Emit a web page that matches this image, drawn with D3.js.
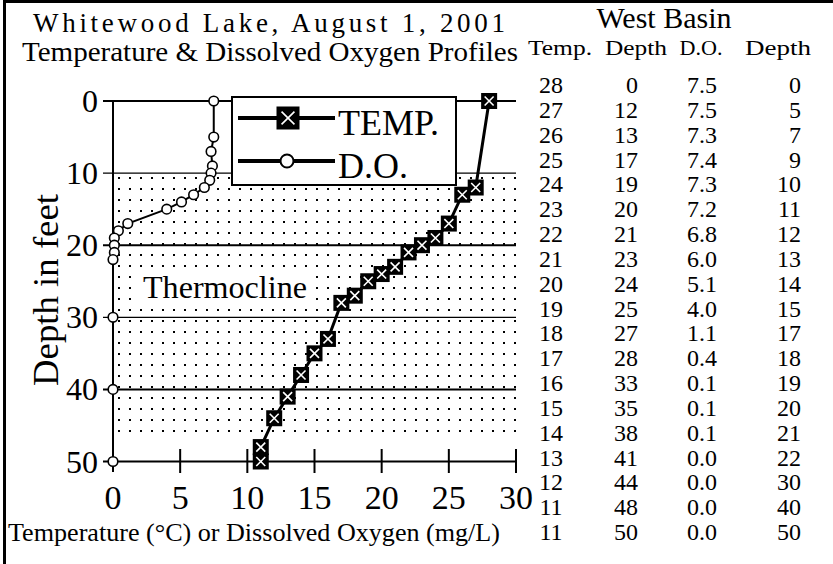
<!DOCTYPE html>
<html>
<head>
<meta charset="utf-8">
<script src="https://cdn.jsdelivr.net/npm/d3@7"></script>
<style>
body { margin: 0; background: #fff; }
svg { display: block; }
</style>
</head>
<body>
<script>
var width = 833,
  height = 564;

// West Basin profile
var tempC = [28, 27, 26, 25, 24, 23, 22, 21, 20, 19, 18, 17, 16, 15, 14, 13, 12, 11, 11];
var tempDepth = [0, 12, 13, 17, 19, 20, 21, 23, 24, 25, 27, 28, 33, 35, 38, 41, 44, 48, 50];
var doMgL = [7.5, 7.5, 7.3, 7.4, 7.3, 7.2, 6.8, 6.0, 5.1, 4.0, 1.1, 0.4, 0.1, 0.1, 0.1, 0.0, 0.0, 0.0, 0.0];
var doDepth = [0, 5, 7, 9, 10, 11, 12, 13, 14, 15, 17, 18, 19, 20, 21, 22, 30, 40, 50];

var xTicks = [0, 5, 10, 15, 20, 25, 30];
var depthTicks = [0, 10, 20, 30, 40, 50];
var thermocline = [10, 46];
var tableHeads = ["Temp.", "Depth", "D.O.", "Depth"];

var temps = tempC.map(function(t, i) { return {v: t, depth: tempDepth[i]}; });
var oxygen = doMgL.map(function(o, i) { return {v: o, depth: doDepth[i]}; });

var svg = d3.select("body").append("svg")
  .attr("width", width)
  .attr("height", height)
  .attr("font-family", "'Liberation Serif', 'DejaVu Serif', 'Times New Roman', Times, serif")
  .attr("fill", "#000");

var x = d3.scaleLinear().domain([0, 30]).range([113, 516]);
var y = d3.scaleLinear().domain([0, 50]).range([101, 461.5]);

// stipple for the thermocline band
var pat = svg.append("defs").append("pattern")
  .attr("id", "dots")
  .attr("patternUnits", "userSpaceOnUse")
  .attr("x", 118).attr("y", 177)
  .attr("width", 11).attr("height", 11);
pat.append("rect").attr("x", 0).attr("y", 0).attr("width", 2).attr("height", 2);

// frame
svg.append("path")
  .attr("d", "M4.5," + height + "V1.5H" + width)
  .attr("fill", "none")
  .attr("stroke", "#000")
  .attr("stroke-width", 3);

// titles
svg.append("text")
  .attr("x", 33).attr("y", 32)
  .attr("font-size", 27)
  .attr("textLength", 472).attr("lengthAdjust", "spacing")
  .text("Whitewood Lake, August 1, 2001");
svg.append("text")
  .attr("x", 22).attr("y", 61)
  .attr("font-size", 27)
  .attr("textLength", 496).attr("lengthAdjust", "spacingAndGlyphs")
  .text("Temperature & Dissolved Oxygen Profiles");

// thermocline band
svg.append("rect")
  .attr("x", x(0) + 1)
  .attr("y", y(thermocline[0]))
  .attr("width", x(30) - x(0) - 1)
  .attr("height", y(thermocline[1]) - y(thermocline[0]))
  .attr("fill", "url(#dots)");

svg.append("rect")
  .attr("x", 135).attr("y", 268)
  .attr("width", 178).attr("height", 39)
  .attr("fill", "#fff");
svg.append("text")
  .attr("x", 143).attr("y", 298)
  .attr("font-size", 32)
  .attr("textLength", 164).attr("lengthAdjust", "spacingAndGlyphs")
  .text("Thermocline");

// horizontal depth lines and y ticks
svg.append("g")
  .selectAll("line")
  .data(depthTicks)
  .enter().append("line")
    .attr("x1", 103)
    .attr("x2", x(30))
    .attr("y1", function(d) { return y(d); })
    .attr("y2", function(d) { return y(d); })
    .attr("stroke", "#000")
    .attr("stroke-width", function(d) { return (d == 10 || d == 30) ? 1.3 : 2; });

svg.append("g")
  .selectAll("text")
  .data(depthTicks)
  .enter().append("text")
    .attr("x", 98)
    .attr("y", function(d) { return y(d) + 11; })
    .attr("text-anchor", "end")
    .attr("font-size", 32)
    .text(function(d) { return d; });

// y axis line
svg.append("line")
  .attr("x1", x(0)).attr("x2", x(0))
  .attr("y1", y(0)).attr("y2", 472)
  .attr("stroke", "#000")
  .attr("stroke-width", 2);

// x ticks
svg.append("g")
  .selectAll("line")
  .data(xTicks.slice(1))
  .enter().append("line")
    .attr("x1", function(d) { return x(d); })
    .attr("x2", function(d) { return x(d); })
    .attr("y1", 449).attr("y2", 473)
    .attr("stroke", "#000")
    .attr("stroke-width", 2);

svg.append("g")
  .selectAll("text")
  .data(xTicks)
  .enter().append("text")
    .attr("x", function(d) { return x(d); })
    .attr("y", 509)
    .attr("text-anchor", "middle")
    .attr("font-size", 34)
    .text(function(d) { return d; });

// axis titles
svg.append("text")
  .attr("transform", "translate(58,290) rotate(-90)")
  .attr("text-anchor", "middle")
  .attr("font-size", 36)
  .attr("textLength", 192).attr("lengthAdjust", "spacingAndGlyphs")
  .text("Depth in feet");

svg.append("text")
  .attr("x", 8).attr("y", 541)
  .attr("font-size", 26)
  .attr("textLength", 492).attr("lengthAdjust", "spacingAndGlyphs")
  .text("Temperature (\u00B0C) or Dissolved Oxygen (mg/L)");

// dissolved oxygen profile
var line = d3.line()
  .x(function(d) { return x(d.v); })
  .y(function(d) { return y(d.depth); });

svg.append("path")
  .datum(oxygen)
  .attr("d", line)
  .attr("fill", "none")
  .attr("stroke", "#000")
  .attr("stroke-width", 2);

svg.append("g")
  .selectAll("circle")
  .data(oxygen)
  .enter().append("circle")
    .attr("cx", function(d) { return x(d.v); })
    .attr("cy", function(d) { return y(d.depth); })
    .attr("r", 4.8)
    .attr("fill", "#fff")
    .attr("stroke", "#000")
    .attr("stroke-width", 1.6);

// temperature profile
svg.append("path")
  .datum(temps)
  .attr("d", line)
  .attr("fill", "none")
  .attr("stroke", "#000")
  .attr("stroke-width", 3);

function boxX(sel, s) {
  sel.append("rect")
    .attr("x", -s / 2).attr("y", -s / 2)
    .attr("width", s).attr("height", s)
    .attr("fill", "#000");
  var k = s * 0.28;
  sel.append("path")
    .attr("d", "M" + (-k) + "," + (-k) + "L" + k + "," + k + "M" + k + "," + (-k) + "L" + (-k) + "," + k)
    .attr("stroke", "#fff")
    .attr("stroke-width", 1.6);
}

svg.append("g")
  .selectAll("g")
  .data(temps)
  .enter().append("g")
    .attr("transform", function(d) { return "translate(" + x(d.v) + "," + y(d.depth) + ")"; })
    .each(function() { boxX(d3.select(this), 16); });

// legend
var legend = svg.append("g");
legend.append("rect")
  .attr("x", 232).attr("y", 97)
  .attr("width", 224).attr("height", 88)
  .attr("fill", "#fff")
  .attr("stroke", "#000")
  .attr("stroke-width", 2);
legend.append("line")
  .attr("x1", 238).attr("x2", 335).attr("y1", 118).attr("y2", 118)
  .attr("stroke", "#000").attr("stroke-width", 4);
boxX(legend.append("g").attr("transform", "translate(288,118)"), 23);
legend.append("text").attr("x", 338).attr("y", 135).attr("font-size", 36).text("TEMP.");
legend.append("line")
  .attr("x1", 238).attr("x2", 335).attr("y1", 161).attr("y2", 161)
  .attr("stroke", "#000").attr("stroke-width", 4);
legend.append("circle")
  .attr("cx", 287).attr("cy", 161).attr("r", 6.5)
  .attr("fill", "#fff").attr("stroke", "#000").attr("stroke-width", 2);
legend.append("text").attr("x", 338).attr("y", 178).attr("font-size", 36).text("D.O.");

// data table
svg.append("text")
  .attr("x", 664).attr("y", 28)
  .attr("text-anchor", "middle")
  .attr("font-size", 30)
  .text("West Basin");

var headX = [560, 636, 701, 778];
var headLen = [64, 62, 43, 66];
svg.append("g")
  .selectAll("text")
  .data(tableHeads)
  .enter().append("text")
    .attr("x", function(d, i) { return headX[i] - headLen[i] / 2; })
    .attr("y", 55)
    .attr("font-size", 22)
    .attr("textLength", function(d, i) { return headLen[i]; })
    .attr("lengthAdjust", "spacingAndGlyphs")
    .text(function(d) { return d; });

var rowY = d3.scaleLinear().domain([0, tempC.length - 1]).range([93, 540]);
var cols = [
  {vals: tempC, x: 551, anchor: "middle", fmt: function(v) { return v; }},
  {vals: tempDepth, x: 638, anchor: "end", fmt: function(v) { return v; }},
  {vals: doMgL, x: 702, anchor: "middle", fmt: function(v) { return v.toFixed(1); }},
  {vals: doDepth, x: 801, anchor: "end", fmt: function(v) { return v; }}
];
cols.forEach(function(c) {
  svg.append("g")
    .selectAll("text")
    .data(c.vals)
    .enter().append("text")
      .attr("x", c.x)
      .attr("y", function(d, i) { return rowY(i); })
      .attr("text-anchor", c.anchor)
      .attr("font-size", 24)
      .text(c.fmt);
});
</script>
</body>
</html>
